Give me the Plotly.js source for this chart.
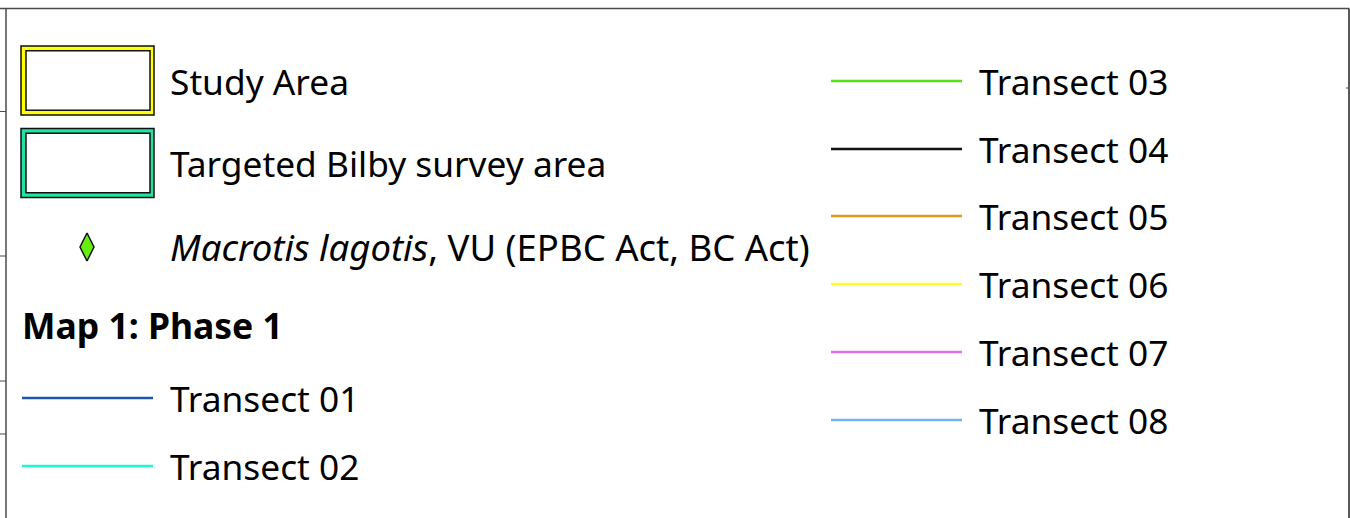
<!DOCTYPE html>
<html>
<head>
<meta charset="utf-8">
<script src="https://cdn.plot.ly/plotly-3.0.1.min.js"></script>
<style>html,body{margin:0;padding:0;background:#fff;}#chart{width:1350px;height:518px;}</style>
</head>
<body>
<div id="chart"></div>
<script>
// ---- legend content ----
const areaLabels = ['Study Area', 'Targeted Bilby survey area'];
const areaColors = ['#ffff00', '#22e3a6'];
const speciesLabel = '<i>Macrotis lagotis</i>, VU (EPBC Act, BC Act)';
const speciesColor = '#66ee11';
const sectionTitle = '<b>Map 1: Phase 1</b>';
const transectNames = ['Transect 01', 'Transect 02', 'Transect 03', 'Transect 04',
                       'Transect 05', 'Transect 06', 'Transect 07', 'Transect 08'];
const transectColors = ['#1f57a8', '#22f7cc', '#5ae01a', '#111111',
                        '#e09a1a', '#ffff22', '#e070f0', '#72b2f5'];

// ---- layout helpers (positions in pixel space) ----
const FONT = 'Noto Sans, Open Sans, sans-serif';
const FS = 35.3;
const leftCol = {sym0: 22, sym1: 153, text: 168};
const rightCol = {sym0: 831, sym1: 962, text: 977};
const transectRows = [398, 466, 81, 149, 216, 284, 352, 420];
const transectCol = [0, 0, 1, 1, 1, 1, 1, 1];

const traces = [];
const annotations = [];
const shapes = [];

// frame
const frameColor = '#4a4a4a';
shapes.push({type:'line', x0:0, x1:1349, y0:8.5, y1:8.5, line:{color:frameColor, width:1.5}});
shapes.push({type:'line', x0:6, x1:6, y0:8.5, y1:518, line:{color:frameColor, width:1.5}});
shapes.push({type:'line', x0:1349, x1:1349, y0:8.5, y1:518, line:{color:'#222', width:1.5}});
[111.5, 256, 381, 434].forEach(y => shapes.push({type:'line', x0:0, x1:6, y0:y, y1:y, line:{color:frameColor, width:1}}));
shapes.push({type:'line', x0:1346, x1:1349, y0:88, y1:88, line:{color:frameColor, width:1}});

// area boxes
const areaRows = [[46, 115], [128.5, 197.5]];
areaLabels.forEach((lab, i) => {
  const [y0, y1] = areaRows[i];
  shapes.push({type:'rect', x0:21, x1:154, y0:y0, y1:y1, fillcolor:areaColors[i], line:{color:'#111', width:1.5}});
  shapes.push({type:'rect', x0:26, x1:150, y0:y0+4.7, y1:y1-4.7, fillcolor:'#ffffff', line:{color:'#111', width:1.5}});
  annotations.push({x:leftCol.text, y:(y0+y1)/2, text:lab, showarrow:false, xanchor:'left', yanchor:'middle',
    font:{family:FONT, size:FS, color:'#000'}});
});

// species marker
traces.push({type:'scatter', mode:'markers', x:[87], y:[247], hoverinfo:'skip', showlegend:false,
  marker:{symbol:'diamond-tall', size:20, color:speciesColor, line:{color:'#111', width:1.5}}});
annotations.push({x:leftCol.text, y:247, text:speciesLabel, showarrow:false, xanchor:'left', yanchor:'middle',
  font:{family:FONT, size:36.5, color:'#000'}});

// section title
annotations.push({x:20, y:325, text:sectionTitle, showarrow:false, xanchor:'left', yanchor:'middle',
  font:{family:FONT, size:35.5, color:'#000'}});

// transects
transectNames.forEach((name, i) => {
  const col = transectCol[i] ? rightCol : leftCol;
  const y = transectRows[i];
  traces.push({type:'scatter', mode:'lines', x:[col.sym0, col.sym1], y:[y, y], hoverinfo:'skip', showlegend:false,
    line:{color:transectColors[i], width:2.6}});
  annotations.push({x:col.text, y:y, text:name, showarrow:false, xanchor:'left', yanchor:'middle',
    font:{family:FONT, size:FS, color:'#000'}});
});

const layout = {
  width:1350, height:518,
  margin:{l:0, r:0, t:0, b:0},
  paper_bgcolor:'#ffffff', plot_bgcolor:'#ffffff',
  xaxis:{range:[0,1350], visible:false, fixedrange:true},
  yaxis:{range:[518,0], visible:false, fixedrange:true},
  shapes:shapes, annotations:annotations, showlegend:false
};
Plotly.newPlot('chart', traces, layout, {displayModeBar:false, staticPlot:true});
</script>
</body>
</html>
